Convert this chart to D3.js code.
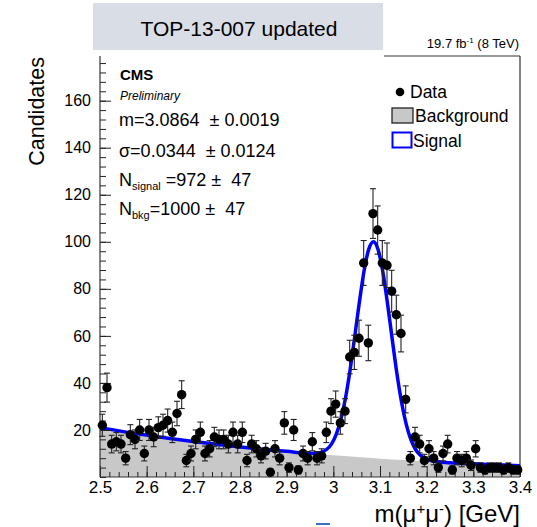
<!DOCTYPE html>
<html><head><meta charset="utf-8">
<script src="https://cdn.jsdelivr.net/npm/d3@7"></script>
<style>
body{margin:0;background:#fff}
svg{display:block}
text{font-family:"Liberation Sans",Arial,Helvetica,sans-serif;fill:#000;white-space:pre}
</style>
</head><body>
<svg id="c" width="537" height="527"></svg>
<script>
// ---------------- data ----------------
const binCenters = [2.505,2.515,2.525,2.535,2.545,2.555,2.565,2.575,2.585,2.595,
  2.605,2.615,2.625,2.635,2.645,2.655,2.665,2.675,2.685,2.695,
  2.705,2.715,2.725,2.735,2.745,2.755,2.765,2.775,2.785,2.795,
  2.805,2.815,2.825,2.835,2.845,2.855,2.865,2.875,2.885,2.895,
  2.905,2.915,2.925,2.935,2.945,2.955,2.965,2.975,2.985,2.995,
  3.005,3.015,3.025,3.035,3.045,3.055,3.065,3.075,3.085,3.095,
  3.105,3.115,3.125,3.135,3.145,3.155,3.165,3.175,3.185,3.195,
  3.205,3.215,3.225,3.235,3.245,3.255,3.265,3.275,3.285,3.295,
  3.305,3.315,3.325,3.335,3.345,3.355,3.365,3.375,3.385,3.395];
const counts = [22,38,14,15,14,8,18,16,20,10,
  20,17,21,22,24,19,27,35,7,10,
  16,19,10,12,17,16,16,14,19,14,
  19,7,14,12,9,11,2,12,8,23,
  4,20,3,10,8,15,8,9,19,28,
  31,23,28,51,53,59,91,57,112,105,
  91,90,79,69,61,33,8,17,14,7,
  12,8,4,10,14,3,8,7,8,5,
  12,4,3,4,4,4,3,4,3,3];
const curveMass = [2.50,2.55,2.60,2.65,2.70,2.75,2.80,2.85,2.90,2.95,
  2.966,2.976,2.986,2.996,3.006,3.016,3.026,3.036,3.046,3.056,3.066,3.076,3.086,
  3.096,3.106,3.116,3.126,3.136,3.146,3.156,3.166,3.176,3.186,3.196,3.206,3.216,
  3.25,3.30,3.35,3.40];
const curveTotal = [21.0,19.3,17.8,16.4,15.1,13.9,12.8,11.8,10.9,10.0,
  10.2,10.7,11.8,14.0,18.0,24.4,33.5,45.6,59.9,74.6,87.8,96.9,100.0,
  96.6,87.3,73.9,58.9,44.3,32.0,22.6,16.0,11.8,9.3,7.9,7.2,6.7,
  6.1,5.6,5.2,4.8];
const bkgMass = [2.50,2.55,2.60,2.65,2.70,2.75,2.80,2.85,2.90,2.95,3.00,3.05,3.10,3.15,3.20,3.25,3.30,3.35,3.40];
const bkgValues = [21.0,19.3,17.8,16.4,15.1,13.9,12.8,11.8,10.9,10.0,9.2,8.5,7.8,7.2,6.6,6.1,5.6,5.2,4.8];
const xTicks = [2.5,2.6,2.7,2.8,2.9,3.0,3.1,3.2,3.3,3.4];
const xTickLabels = ["2.5","2.6","2.7","2.8","2.9","3","3.1","3.2","3.3","3.4"];
const yTicks = [20,40,60,80,100,120,140,160];

// ---------------- layout ----------------
const svg = d3.select('#c');
const X0 = 100, X1 = 520, Y0 = 477, Y1 = 56;
const x = d3.scaleLinear().domain([2.5, 3.4]).range([X0, X1]);
const y = d3.scaleLinear().domain([0, 179]).range([Y0, Y1]);
const FONT = '"Liberation Sans",Arial,sans-serif';

// background fill
svg.append('path')
  .datum(bkgMass.map((m, i) => [m, bkgValues[i]]))
  .attr('fill', '#c8c8c8')
  .attr('d', d3.area().x(d => x(d[0])).y0(y(0)).y1(d => y(d[1])).curve(d3.curveMonotoneX));

// total fit curve
svg.append('path')
  .datum(curveMass.map((m, i) => [m, curveTotal[i]]))
  .attr('fill', 'none').attr('stroke', '#0000ff').attr('stroke-width', 3.5)
  .attr('d', d3.line().x(d => x(d[0])).y(d => y(d[1])).curve(d3.curveMonotoneX));

// axes
const minorX = d3.range(0, 46).map(i => 2.5 + i * 0.02);
const minorY = d3.range(0, 45).map(i => i * 4);
svg.append('g').attr('transform', `translate(0,${Y0})`)
  .call(d3.axisBottom(x).tickValues(minorX).tickSize(-5).tickFormat(''))
  .call(g => g.select('.domain').remove())
  .call(g => g.selectAll('line').attr('stroke', '#222'));
svg.append('g').attr('transform', `translate(0,${Y0})`)
  .call(d3.axisBottom(x).tickValues(xTicks).tickSize(-11).tickPadding(4)
    .tickFormat((d, i) => xTickLabels[i]))
  .call(g => g.select('.domain').remove())
  .call(g => g.selectAll('line').attr('stroke', '#222'))
  .call(g => g.selectAll('text').attr('font-size', 17).attr('font-family', FONT));
svg.append('g').attr('transform', `translate(${X0},0)`)
  .call(d3.axisLeft(y).tickValues(minorY.filter(v => y(v) >= Y1)).tickSize(-6).tickFormat(''))
  .call(g => g.select('.domain').remove())
  .call(g => g.selectAll('line').attr('stroke', '#222'));
svg.append('g').attr('transform', `translate(${X0},0)`)
  .call(d3.axisLeft(y).tickValues(yTicks).tickSize(-11).tickPadding(9))
  .call(g => g.select('.domain').remove())
  .call(g => g.selectAll('line').attr('stroke', '#222'))
  .call(g => g.selectAll('text').attr('font-size', 16).attr('font-family', FONT));

// frame
const frame = svg.append('g').attr('stroke', '#333').attr('stroke-width', 1.2).attr('fill', 'none');
frame.append('line').attr('x1', X0).attr('x2', X0).attr('y1', Y1).attr('y2', Y0);
frame.append('line').attr('x1', X0).attr('x2', X1).attr('y1', Y0).attr('y2', Y0);
frame.append('line').attr('x1', X1).attr('x2', X1).attr('y1', Y1).attr('y2', Y0);
frame.append('line').attr('x1', 384).attr('x2', X1).attr('y1', Y1).attr('y2', Y1);

// data points with error bars
const pts = svg.append('g');
binCenters.forEach((m, i) => {
  const n = counts[i], e = Math.sqrt(n);
  const cx = x(m), yt = y(n + e), yb = y(Math.max(0, n - e));
  pts.append('line').attr('x1', cx).attr('x2', cx).attr('y1', yt).attr('y2', yb)
    .attr('stroke', '#222').attr('stroke-width', 1.1);
  pts.append('line').attr('x1', cx - 3).attr('x2', cx + 3).attr('y1', yt).attr('y2', yt)
    .attr('stroke', '#222').attr('stroke-width', 1.1);
  pts.append('line').attr('x1', cx - 3).attr('x2', cx + 3).attr('y1', yb).attr('y2', yb)
    .attr('stroke', '#222').attr('stroke-width', 1.1);
  pts.append('circle').attr('cx', cx).attr('cy', y(n)).attr('r', 4.7).attr('fill', '#000');
});

// axis titles
svg.append('text').attr('transform', 'translate(44,57) rotate(-90)')
  .attr('text-anchor', 'end').attr('font-size', 21.5).text('Candidates');
const xt = svg.append('text').attr('x', X1).attr('y', 522).attr('text-anchor', 'end').attr('font-size', 24);
xt.append('tspan').text('m(μ');
xt.append('tspan').attr('font-size', 15).attr('dy', -8).text('+');
xt.append('tspan').attr('dy', 8).text('μ');
xt.append('tspan').attr('font-size', 15).attr('dy', -8).text('-');
xt.append('tspan').attr('dy', 8).text(') [GeV]');

// header box
svg.append('rect').attr('x', 93).attr('y', 3).attr('width', 290).attr('height', 47).attr('fill', '#d9dde6');
svg.append('text').attr('x', 239).attr('y', 36).attr('text-anchor', 'middle').attr('font-size', 21)
  .attr('fill', '#111').text('TOP-13-007 updated');
const lumi = svg.append('text').attr('x', 519).attr('y', 48).attr('text-anchor', 'end').attr('font-size', 13);
lumi.append('tspan').text('19.7 fb');
lumi.append('tspan').attr('font-size', 8).attr('dy', -5).text('-1');
lumi.append('tspan').attr('dy', 5).text(' (8 TeV)');

// fit info text
svg.append('text').attr('x', 120).attr('y', 80).attr('font-size', 15).attr('font-weight', 'bold').text('CMS');
svg.append('text').attr('x', 120).attr('y', 100).attr('font-size', 12).attr('font-style', 'italic').text('Preliminary');
svg.append('text').attr('x', 119).attr('y', 126).attr('font-size', 18).text('m=3.0864  ± 0.0019');
svg.append('text').attr('x', 119).attr('y', 157).attr('font-size', 18).text('σ=0.0344  ± 0.0124');
const ns = svg.append('text').attr('x', 119).attr('y', 186).attr('font-size', 18);
ns.append('tspan').text('N');
ns.append('tspan').attr('font-size', 11).attr('dy', 4).text('signal');
ns.append('tspan').attr('dy', -4).text(' =972 ±  47');
const nb = svg.append('text').attr('x', 119).attr('y', 215).attr('font-size', 18);
nb.append('tspan').text('N');
nb.append('tspan').attr('font-size', 11).attr('dy', 4).text('bkg');
nb.append('tspan').attr('dy', -4).text('=1000 ±  47');

// legend
svg.append('circle').attr('cx', 400).attr('cy', 92).attr('r', 4.3).attr('fill', '#000');
svg.append('text').attr('x', 410).attr('y', 98).attr('font-size', 17.5).text('Data');
svg.append('rect').attr('x', 392).attr('y', 108).attr('width', 21).attr('height', 15)
  .attr('fill', '#c8c8c8').attr('stroke', '#222').attr('stroke-width', 1.3);
svg.append('text').attr('x', 415).attr('y', 122).attr('font-size', 17.5).text('Background');
svg.append('rect').attr('x', 392.5).attr('y', 132.5).attr('width', 19).attr('height', 15)
  .attr('fill', '#fff').attr('stroke', '#0000ff').attr('stroke-width', 2);
svg.append('text').attr('x', 413).attr('y', 147).attr('font-size', 17.5).text('Signal');

// small blue mark at bottom
svg.append('rect').attr('x', 316).attr('y', 523).attr('width', 14).attr('height', 2).attr('fill', '#3c6fbf');
</script>
</body></html>
